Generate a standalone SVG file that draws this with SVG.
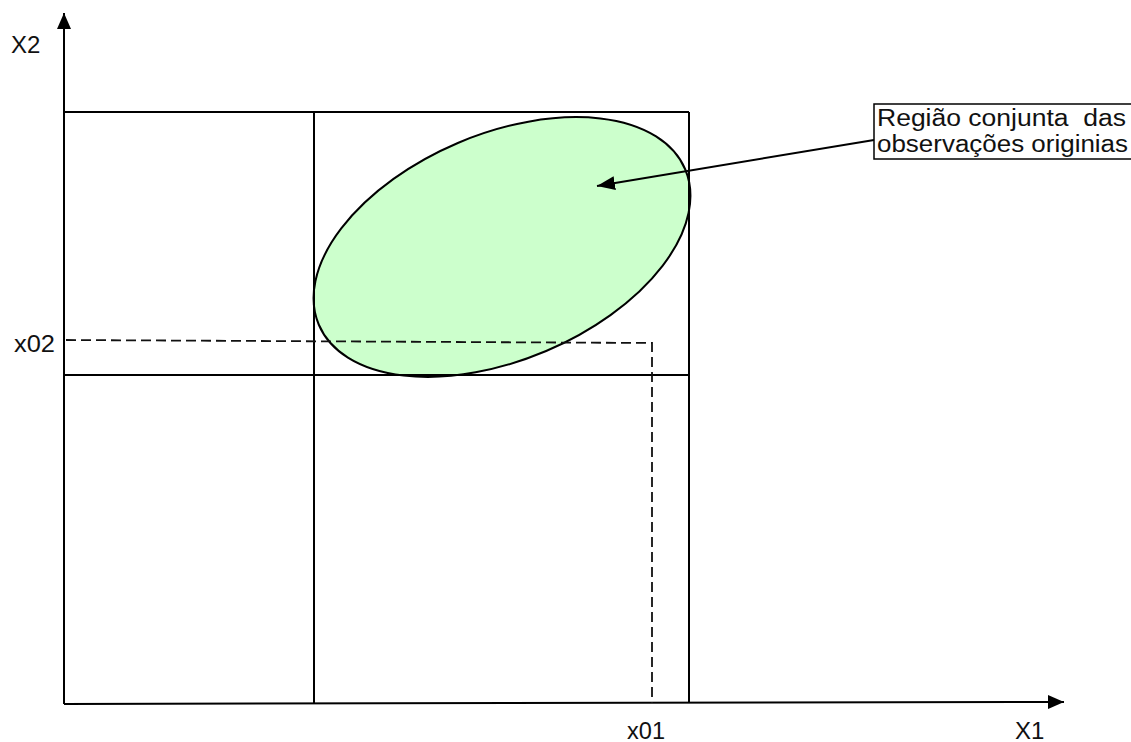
<svg xmlns="http://www.w3.org/2000/svg" width="1131" height="742" viewBox="0 0 1131 742">
<style>
.ln{stroke:#000;stroke-width:2;fill:none}
.ds{stroke:#111;stroke-width:1.8;fill:none;stroke-dasharray:10 5}
.t{font-family:"Liberation Sans",Arial,sans-serif;font-size:24px;fill:#111;white-space:pre}
.lb{font-size:23px}
</style>
<defs>
<marker id="ah" viewBox="0 0 16 14" refX="16" refY="7" markerWidth="16" markerHeight="14" markerUnits="userSpaceOnUse" orient="auto">
<path d="M0,0 L16,7 L0,14 Z" fill="#000"/>
</marker>
<marker id="ah2" viewBox="0 0 18 14" refX="18" refY="7" markerWidth="18" markerHeight="14" markerUnits="userSpaceOnUse" orient="auto">
<path d="M0,0 L18,7 L0,14 Z" fill="#000"/>
</marker>
</defs>
<rect width="1131" height="742" fill="#fff"/>
<g id="region">
<ellipse cx="502" cy="247" rx="199" ry="113" transform="rotate(-23 502 247)" fill="#ccffcc" stroke="#000" stroke-width="2"/>
</g>
<g id="grid">
<line class="ln" x1="64" y1="112" x2="689" y2="112"/>
<line class="ln" x1="314" y1="112" x2="314" y2="704"/>
<line class="ln" x1="689" y1="112" x2="689" y2="703"/>
<line class="ln" x1="64" y1="375" x2="689" y2="375"/>
</g>
<g id="connectors">
<line class="ln" x1="64" y1="704" x2="64" y2="13" marker-end="url(#ah)"/>
<line class="ln" x1="64" y1="704" x2="1064" y2="702" marker-end="url(#ah)"/>
<polyline class="ds" points="66,340 652,343 652,703"/>
<line class="ln" x1="874" y1="140" x2="597" y2="186" marker-end="url(#ah2)"/>
</g>
<g id="label">
<rect x="874" y="104" width="270" height="55" fill="#fff" stroke="#000" stroke-width="1.5"/>
<text class="t lb" x="877" y="126" textLength="249" lengthAdjust="spacingAndGlyphs" xml:space="preserve">Região conjunta  das</text>
<text class="t lb" x="877" y="152" textLength="251" lengthAdjust="spacingAndGlyphs">observações originias</text>
</g>
<g id="axis-labels">
<text class="t" x="11" y="53">X2</text>
<text class="t" x="14" y="352" textLength="41" lengthAdjust="spacingAndGlyphs">x02</text>
<text class="t" x="627" y="739" textLength="38" lengthAdjust="spacingAndGlyphs">x01</text>
<text class="t" x="1015" y="739">X1</text>
</g>
</svg>
